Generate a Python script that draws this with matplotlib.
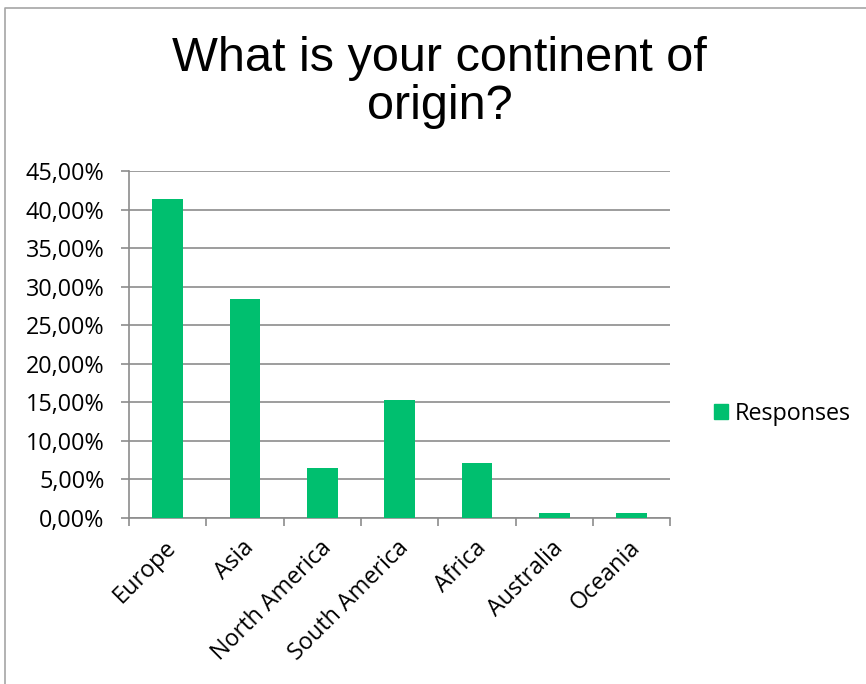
import matplotlib.pyplot as plt
from matplotlib.lines import Line2D
from matplotlib.patches import Patch
from matplotlib.ticker import FuncFormatter, FixedLocator
import numpy as np

# Survey results: share of responses per continent (%)
continents = ['Europe', 'Asia', 'North America', 'South America',
              'Africa', 'Australia', 'Oceania']
responses = [41.4, 28.4, 6.5, 15.3, 7.1, 0.6, 0.6]
series_name = 'Responses'
title = 'What is your continent of\norigin?'

bar_color = '#00bf6f'
grid_color = '#8c8c8c'
label_font = ['Open Sans', 'DejaVu Sans']
label_size = 16.8

fig = plt.figure(figsize=(8.66, 6.84), dpi=100)
ax = fig.add_axes([0.149, 0.2427, 0.625, 0.5073])

x = np.arange(len(continents))
ax.bar(x, responses, width=0.4, color=bar_color, zorder=3)

ax.set_xlim(-0.5, len(continents) - 0.5)
ax.set_ylim(0, 45)
ax.set_yticks(np.arange(0, 46, 5))
ax.yaxis.set_major_formatter(FuncFormatter(lambda v, _: f'{v:.2f}%'.replace('.', ',')))
ax.grid(axis='y', color=grid_color, linewidth=1.2, zorder=0)

# category boundaries carry the tick marks, labels sit under the bars
ax.xaxis.set_major_locator(FixedLocator(np.arange(-0.5, len(continents), 1)))
ax.xaxis.set_major_formatter(FuncFormatter(lambda v, _: ''))
ax.xaxis.set_minor_locator(FixedLocator(x - 0.04))
ax.set_xticklabels(continents, minor=True, rotation=45, ha='right',
                   rotation_mode='anchor', fontsize=label_size, family=label_font)
ax.tick_params(axis='x', which='minor', length=0, pad=13)
ax.tick_params(axis='x', which='major', length=5.5, color=grid_color, width=1.2)
ax.tick_params(axis='y', length=5.5, color=grid_color, width=1.2,
               labelsize=label_size, pad=12)
for lbl in ax.get_yticklabels():
    lbl.set_family(label_font)

for side in ['top', 'right']:
    ax.spines[side].set_visible(False)
for side in ['left', 'bottom']:
    ax.spines[side].set_color(grid_color)
    ax.spines[side].set_linewidth(1.2)

fig.text(0.508, 0.879, title, ha='center', va='center', fontsize=35,
         family='Liberation Sans', linespacing=1.08)

fig.legend(handles=[Patch(color=bar_color, label=series_name)],
           loc='center left', bbox_to_anchor=(0.8245, 0.395), frameon=False,
           prop={'family': label_font, 'size': label_size},
           borderpad=0, borderaxespad=0,
           handlelength=0.6, handleheight=0.6, handletextpad=0.3)

# outer chart frame
fx, fy = 4.5 / 866, 1 - 7.5 / 684
fig.add_artist(Line2D([fx, fx, 1], [0, fy, fy], transform=fig.transFigure,
                      color='#a6a6a6', linewidth=1.2))

fig.savefig('out.png', dpi=100)
